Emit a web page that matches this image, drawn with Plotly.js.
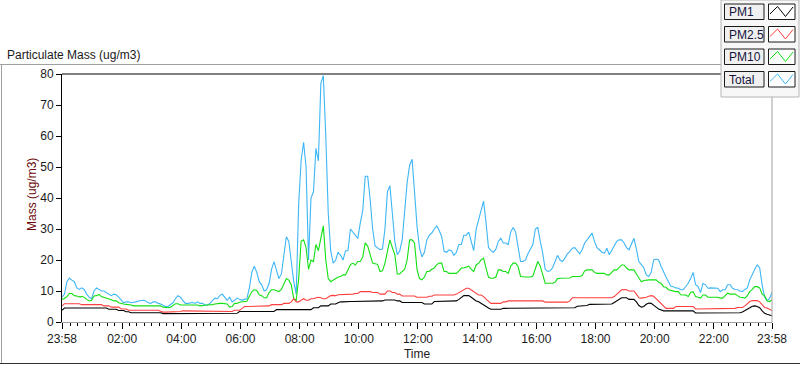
<!DOCTYPE html>
<html>
<head>
<meta charset="utf-8">
<script src="https://cdn.plot.ly/plotly-3.0.1.min.js"></script>
<style>
  html, body { margin: 0; padding: 0; background: #ffffff; }
  #chart { width: 800px; height: 365px; }
</style>
</head>
<body>
<div id="chart"></div>
<script>
// ---------- DATA ----------
const seriesNames = ["PM1", "PM2.5", "PM10", "Total"];
const stepMinutes = 5;            // samples every 5 minutes, starting 23:58
const tickLabels = ["23:58", "02:00", "04:00", "06:00", "08:00", "10:00", "12:00",
                    "14:00", "16:00", "18:00", "20:00", "22:00", "23:58"];
const tickMinutes = [0, 122, 242, 362, 482, 602, 722, 842, 962, 1082, 1202, 1322, 1440];

const total = [
  8, 9, 13, 14.2, 13.5, 13, 11, 10.5, 11, 10.5,
  9, 8, 7.5, 10, 11, 10.5, 10, 10, 9.5, 9,
  8.5, 9, 8.8, 8, 7, 6.2, 6.5, 6.5, 6.2, 6.3,
  6.5, 6.8, 7, 7, 6.8, 6.2, 6, 6.5, 6.5, 6,
  5.8, 5.5, 5, 5, 5.5, 6.2, 7.5, 8.5, 8, 7,
  6, 6, 6.2, 6.3, 6, 6.5, 6, 6, 5.5, 5.5,
  6, 7, 7.7, 7.5, 8.5, 9, 8, 7, 8, 6.5,
  7, 7.7, 7.3, 7, 7.3, 7.5, 11, 16, 18, 16,
  13, 12, 10, 10.4, 12.5, 17, 19.5, 17, 14, 15.5,
  22, 27.5, 26, 20, 13, 9, 38, 52, 58, 50,
  20, 40, 42, 56, 52, 77, 79.5, 60, 35, 23,
  19, 20, 22.5, 21.5, 20, 23, 23, 30, 29, 28,
  27, 32, 36, 47, 47, 39.5, 30, 24.5, 24, 23.3,
  23.5, 30, 42, 44, 35, 26, 21.7, 23, 26.5, 36,
  45, 50.5, 52.5, 42, 31, 24, 21, 22.5, 26.5, 28,
  28.7, 30, 31, 29.5, 27.6, 22.8, 22.5, 23.3, 23, 21.5,
  22.5, 25, 25, 28, 28, 29, 26, 23, 30, 33,
  36, 39, 32, 24, 23, 22.5, 23.5, 26, 27, 25.5,
  25.5, 25, 29, 30.5, 29, 24, 19.5, 19.5, 20, 22,
  23.3, 25, 30, 30.5, 26, 22.2, 17, 16.3, 16.5, 17.5,
  19.5, 21.5, 20, 19.5, 20.6, 22, 22.8, 23.8, 24, 22.8,
  22, 23.3, 25.5, 26.5, 27.5, 28.7, 26, 24, 23.3, 22.5,
  22.2, 23.8, 21.7, 23, 24.5, 26, 26.5, 26.5, 25.5, 24,
  23.3, 25, 27, 23.5, 19.5, 18.5, 17.5, 15.2, 14.7, 16,
  20, 20.3, 20, 18, 16, 14.5, 13, 11.5, 11.4, 11,
  10.9, 10.4, 10.4, 11.4, 12.5, 14, 16, 12, 11.4, 9.5,
  12.5, 12, 10.9, 11, 10.9, 11, 10.9, 9.8, 10.4, 10.4,
  12, 12, 10.9, 10.5, 10.4, 10, 9.8, 10.5, 11, 13.6,
  15.5, 17, 18.4, 17.5, 12, 8, 7, 7.5, 9.5
];

const pm10 = [
  7.3, 7.6, 8.2, 9.2, 9.2, 8.5, 8.4, 8.1, 8.2, 8,
  7.3, 6.8, 7, 8.4, 8.5, 8.9, 8.2, 8, 7.8, 7.6,
  7.2, 6.8, 6.8, 6.2, 5.9, 5.8, 5.7, 5.7, 5.5, 5.2,
  5.2, 5.3, 5.4, 5.4, 5.4, 5.3, 5.4, 5.4, 5.3, 5.4,
  5.2, 4.8, 4.6, 4.6, 4.8, 5.3, 5.9, 5.9, 5.5, 5.5,
  5.5, 5.6, 5.7, 5.7, 5.7, 5.5, 5.2, 5.2, 5.4, 5.5,
  5.5, 5.6, 5.8, 6, 6, 6, 6, 5.8, 4.8, 5,
  6, 6, 6.4, 6.6, 6.6, 6.7, 8.5, 9.8, 10.4, 10.2,
  8.8, 8.5, 7.8, 7.8, 9.5, 10.4, 10.4, 10.2, 9.8, 10.5,
  12.5, 14, 13.5, 12, 7.5, 7, 14, 26, 26.5, 24,
  17, 20, 19.5, 25, 23, 27, 31, 20, 14, 13,
  13.5, 14, 14.5, 14.7, 15.2, 15.2, 16.8, 18.5, 19, 18.4,
  19.5, 19.5, 21, 25.5, 24.5, 22, 19, 18.8, 18.6, 16.3,
  16.5, 19, 23.3, 26.5, 24, 21.7, 15.5, 15.5, 16.3, 17,
  20, 26.5, 26.5, 25.5, 17, 14, 13.6, 14.5, 16.3, 16.3,
  17, 17.4, 18.5, 19, 19, 16.3, 16.3, 15.7, 15.7, 15.7,
  15.7, 16.5, 17.4, 17.4, 17.8, 18, 17, 16.3, 18.4, 19,
  20, 20.6, 17.4, 14.5, 14.1, 14.1, 14.5, 16.8, 16.8, 16.3,
  16.3, 15.7, 18, 19, 19, 17.9, 14.7, 14.5, 14.5, 14.5,
  14.5, 14.8, 17.4, 19.5, 18, 15, 12.5, 12.5, 12.5, 12.5,
  12.8, 14, 14.1, 14.1, 14.1, 14.1, 14.2, 14.7, 14.7, 14.7,
  14.7, 15, 16.5, 16.8, 16.8, 16.8, 16, 15.7, 15.7, 15.7,
  15.7, 15.2, 15.2, 16, 16.8, 16.8, 17.5, 18.4, 18.4, 17.4,
  16.8, 16.8, 16.8, 15.5, 14, 13, 13.4, 13.6, 13.6, 13.6,
  13.6, 13.6, 12.8, 12.5, 11.4, 11.2, 10.4, 10.2, 9.8, 9.8,
  9.8, 8.8, 8.7, 8.7, 8.2, 9.5, 9.8, 8.2, 8, 7.7,
  8.7, 8.7, 8, 8, 8, 8, 8, 7.7, 7.7, 8.5,
  9.3, 9, 9, 9, 8.5, 8, 7.9, 7.7, 8.5, 9.8,
  10.5, 11.4, 11.4, 11, 9, 8.5, 6.8, 6.6, 7.1
];

const pm25 = [
  5.2, 5.9, 5.9, 5.9, 5.9, 5.9, 5.9, 5.9, 5.6, 5.6,
  5.6, 5.6, 5.6, 5.6, 5.6, 5.6, 5.6, 5.2, 5.2, 5.2,
  4.8, 4.8, 4.8, 4.8, 4.2, 4.2, 4.2, 3.8, 3.8, 3.8,
  3.8, 3.8, 3.8, 3.8, 3.8, 3.8, 3.8, 3.8, 3.8, 3.8,
  3.5, 3.2, 3.2, 3.2, 3.2, 3.4, 3.4, 3.4, 3.4, 3.6,
  3.6, 3.6, 3.6, 3.6, 3.6, 3.4, 3.4, 3.4, 3.4, 3.4,
  3.4, 3.4, 3.4, 3.4, 3.4, 3.4, 3.4, 3.4, 3.4, 3.4,
  3.8, 3.8, 3.8, 4.3, 5, 5, 5, 5, 5, 5,
  5.2, 5.2, 5.2, 5.2, 5.2, 5.6, 5.6, 5.6, 5.6, 5.6,
  6, 6, 6, 6.5, 7.5, 6.5, 6.5, 7, 7.5, 7,
  7, 7.5, 7.5, 7.8, 8, 7.8, 7.5, 7.5, 8, 8.5,
  8.6, 8.5, 8.8, 8.8, 8.8, 9, 9, 9, 9, 9.2,
  9.2, 9.8, 9.8, 9.8, 9.8, 9.8, 9.5, 9.5, 9.5, 9,
  9, 9, 10, 10, 9.5, 9.5, 9, 9, 8.4, 8.4,
  8.4, 8.4, 8.4, 8.4, 8, 8, 8, 8, 8, 8.3,
  8.3, 8.7, 8.7, 8.7, 8.7, 8.7, 8.7, 8.7, 8.7, 8.7,
  9, 9.5, 9.8, 10.3, 10.9, 10.9, 10.3, 9.8, 9, 8.7,
  8.7, 8.2, 7.4, 6.8, 6, 6, 6, 6, 6, 6.5,
  6.5, 6.8, 6.8, 6.8, 6.8, 6.8, 6.8, 6.8, 6.8, 6.8,
  6.8, 6.8, 6.8, 6.8, 6.8, 6.8, 6.4, 6.4, 6.4, 6.4,
  6.4, 6.4, 6.4, 6.4, 6.4, 6.4, 6.8, 7.8, 7.8, 7.8,
  7.8, 7.8, 7.8, 7.8, 7.8, 7.8, 7.8, 7.8, 7.8, 7.8,
  7.8, 7.8, 7.8, 7.8, 8.2, 9, 9.8, 10.4, 10.5, 10.4,
  10, 10, 10, 9, 7.8, 7.7, 7.8, 8, 8.3, 8.5,
  8.3, 7.5, 6.6, 5.8, 5, 4.4, 4.4, 4.4, 4.4, 5,
  5, 5, 5, 5, 5, 5, 5, 4.2, 4.2, 4.2,
  4.2, 4.2, 4.2, 4.2, 4.2, 4.2, 4.2, 4.2, 4.2, 4.2,
  4.2, 4.4, 4.4, 4.4, 4.7, 4.7, 4.7, 5.2, 6, 6.6,
  6.9, 6.9, 6.9, 6.5, 5.5, 4.7, 4.5, 4, 3.7
];

const pm1 = [
  3.8, 4.5, 4.5, 4.5, 4.5, 4.5, 4.5, 4.5, 4.5, 4.5,
  4.5, 4.5, 4.5, 4.5, 4.5, 4.5, 4.5, 4.5, 4.5, 4.1,
  4.1, 4.1, 4.1, 3.7, 3.7, 3.7, 3.3, 3.3, 3.0, 3.0,
  3.0, 3.0, 3.0, 3.0, 3.0, 3.0, 3.0, 3.0, 3.0, 3.0,
  3.0, 2.7, 2.7, 2.7, 2.7, 2.7, 2.7, 2.7, 2.7, 2.7,
  2.7, 2.7, 2.7, 2.7, 2.7, 2.7, 2.7, 2.7, 2.7, 2.7,
  2.7, 2.7, 2.7, 2.7, 2.7, 2.7, 2.7, 2.7, 2.7, 2.8,
  2.8, 2.8, 3.4, 3.4, 3.4, 3.4, 3.4, 3.4, 3.4, 3.4,
  3.4, 3.4, 3.4, 3.4, 3.4, 3.4, 3.4, 4.0, 4.0, 4.0,
  4.0, 4.0, 4.0, 4.0, 4.0, 4.0, 4.0, 4.0, 4.0, 4.0,
  4.0, 4.0, 4.6, 4.6, 4.6, 5.2, 5.2, 5.2, 5.2, 5.8,
  5.8, 5.8, 6.2, 6.5, 6.5, 6.6, 6.6, 6.6, 6.6, 6.6,
  6.6, 6.6, 6.6, 6.6, 6.6, 6.6, 6.8, 6.8, 6.8, 6.8,
  6.8, 7.1, 7.1, 7.1, 7.1, 7.1, 6.8, 6.8, 6.3, 6.3,
  6.3, 6.3, 6.3, 6.3, 6.3, 6.3, 6.3, 5.8, 5.8, 5.8,
  5.8, 6.6, 6.6, 6.6, 6.6, 6.6, 6.6, 6.6, 6.6, 6.6,
  6.8, 7.3, 7.8, 8.5, 8.5, 8.5, 8, 7.3, 6.8, 6.5,
  6, 5.3, 5, 4.5, 4.1, 4.1, 4.1, 4.1, 4.1, 4.4,
  4.4, 4.4, 4.4, 4.4, 4.4, 4.4, 4.4, 4.4, 4.4, 4.4,
  4.4, 4.4, 4.4, 4.4, 4.4, 4.4, 4.4, 4.4, 4.4, 4.4,
  4.4, 4.4, 4.4, 4.4, 4.4, 4.4, 4.6, 4.6, 4.6, 5.1,
  5.1, 5.3, 5.3, 5.3, 5.7, 5.7, 5.7, 5.7, 5.7, 5.7,
  5.7, 5.7, 5.7, 5.8, 6.3, 6.8, 7.5, 7.8, 7.8, 7.8,
  7.3, 7.3, 7.3, 6.5, 5.3, 4.8, 5, 5.7, 6.1, 6,
  5.5, 4.8, 4.2, 3.9, 3.6, 3.6, 3.6, 3.6, 3.6, 3.6,
  3.6, 3.6, 3.6, 3.6, 3.6, 3.6, 3.6, 2.9, 2.9, 2.9,
  2.9, 2.9, 2.9, 2.9, 2.9, 2.9, 3.0, 3.0, 3.0, 3.0,
  3.0, 3.0, 3.0, 3.0, 3.0, 3.0, 3.2, 3.6, 4.1, 4.6,
  5.1, 5.2, 5, 4.6, 3.6, 2.8, 2.5, 2.2, 2.0
];

// ---------- STYLE ----------
const colors = ["#000000", "#ff3f3f", "#12e012", "#3db6f6"];
const FONT = "Liberation Sans, Arial, sans-serif";

const minutes = total.map((_, i) => i * stepMinutes);
const seriesValues = [pm1, pm25, pm10, total];

// draw order: Total at back, PM1 on top
const order = [3, 2, 1, 0];
const traces = order.map(k => ({
  type: "scatter",
  mode: "lines",
  name: seriesNames[k],
  x: minutes,
  y: seriesValues[k],
  line: { color: colors[k], width: 1.1 },
  showlegend: false,
  hoverinfo: "x+y+name"
}));

// plot area in pixels
const L = 62, R = 772, T = 74, B = 322, W = 800, H = 365;
const px = x => (x - L) / (R - L);
const py = y => (B - y) / (B - T);

// minor ticks every 15 minutes from 00:00 (2 min after start)
const minorVals = [];
for (let m = 2; m <= 1440; m += 15) minorVals.push(m);

const shapes = [];
const annotations = [];

// frame lines
shapes.push({ type: "line", xref: "paper", yref: "paper", x0: px(0), x1: px(721), y0: py(64.5), y1: py(64.5), line: { color: "#a0a0a0", width: 1 } });
shapes.push({ type: "line", xref: "paper", yref: "paper", x0: px(1.5), x1: px(1.5), y0: py(64.5), y1: py(364), line: { color: "#a0a0a0", width: 1 } });
shapes.push({ type: "line", xref: "paper", yref: "paper", x0: px(0), x1: px(800), y0: py(363.5), y1: py(363.5), line: { color: "#303030", width: 1 } });
// plot box top (black) and right (gray)
shapes.push({ type: "line", xref: "paper", yref: "paper", x0: 0, x1: 1, y0: 1, y1: 1, line: { color: "#000000", width: 1 } });
shapes.push({ type: "line", xref: "paper", yref: "paper", x0: 1, x1: 1, y0: 0, y1: 1, line: { color: "#a0a0a0", width: 1 } });

// legend panel
shapes.push({ type: "rect", xref: "paper", yref: "paper", x0: px(721), x1: px(799), y0: py(97), y1: py(0),
  fillcolor: "#f7f7f7", line: { color: "#b4b4b4", width: 1 } });
const rowTops = [4, 26.5, 49, 71.5];
seriesNames.forEach((name, k) => {
  const t = rowTops[k];
  shapes.push({ type: "rect", xref: "paper", yref: "paper", x0: px(724.5), x1: px(764), y0: py(t + 15.5), y1: py(t),
    fillcolor: "#f0f0f0", line: { color: "#1a1a1a", width: 1 } });
  shapes.push({ type: "rect", xref: "paper", yref: "paper", x0: px(768.5), x1: px(795), y0: py(t + 15.5), y1: py(t),
    fillcolor: "#ffffff", line: { color: "#1a1a1a", width: 1 } });
  const pts = [[770, t + 10], [777.5, t + 2.5], [785.5, t + 12.5], [793, t + 3]];
  const path = "M " + pts.map(p => px(p[0]).toFixed(5) + "," + py(p[1]).toFixed(5)).join(" L ");
  shapes.push({ type: "path", xref: "paper", yref: "paper", path: path, line: { color: colors[k], width: 1 } });
  annotations.push({ xref: "paper", yref: "paper", x: px(726.5), y: py(t + 8), xanchor: "left", yanchor: "middle",
    text: name, showarrow: false, font: { family: FONT, size: 12, color: "#14143c" } });
});

// chart title and axis titles
annotations.push({ xref: "paper", yref: "paper", x: px(5), y: py(55), xanchor: "left", yanchor: "middle",
  text: "Particulate Mass (ug/m3)", showarrow: false, font: { family: FONT, size: 12, color: "#1a1a1a" } });
annotations.push({ xref: "paper", yref: "paper", x: px(32), y: py(195), xanchor: "center", yanchor: "middle",
  text: "Mass (ug/m3)", textangle: -90, showarrow: false, font: { family: FONT, size: 12, color: "#6a0a0a" } });

const layout = {
  width: W, height: H,
  margin: { l: L, r: W - R, t: T, b: H - B, pad: 0 },
  paper_bgcolor: "#ffffff",
  plot_bgcolor: "#ffffff",
  font: { family: FONT, size: 12, color: "#1a1a1a" },
  showlegend: false,
  xaxis: {
    range: [0, 1440],
    tickmode: "array",
    tickvals: tickMinutes,
    ticktext: tickLabels,
    ticks: "outside", ticklen: 6, tickcolor: "#000000", tickwidth: 1,
    minor: { tickmode: "array", tickvals: minorVals, ticks: "outside", ticklen: 3, tickcolor: "#000000", tickwidth: 1, showgrid: false },
    showgrid: false, zeroline: false,
    showline: true, linecolor: "#a0a0a0", linewidth: 1,
    tickfont: { family: FONT, size: 12, color: "#1a1a1a" },
    title: { text: "Time", font: { family: FONT, size: 12, color: "#1a1a1a" }, standoff: 4 },
    fixedrange: true
  },
  yaxis: {
    range: [0, 80],
    tickmode: "linear", tick0: 0, dtick: 10,
    ticks: "outside", ticklen: 5, tickcolor: "#000000", tickwidth: 1,
    showgrid: false, zeroline: false,
    showline: true, linecolor: "#000000", linewidth: 1,
    tickfont: { family: FONT, size: 12, color: "#1a1a1a" },
    fixedrange: true
  },
  shapes: shapes,
  annotations: annotations
};

Plotly.newPlot("chart", traces, layout, { displayModeBar: false, staticPlot: true });
</script>
</body>
</html>
